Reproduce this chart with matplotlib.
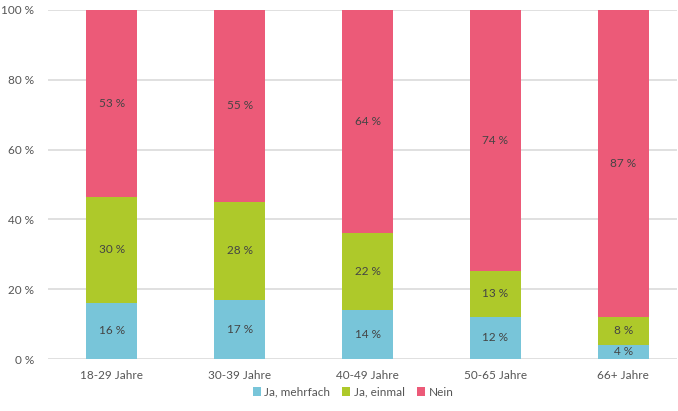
import matplotlib

matplotlib.use("Agg")
import matplotlib.pyplot as plt
import numpy as np
from matplotlib.patches import Patch

plt.rcParams["font.family"] = ["Lato", "DejaVu Sans"]

AGE_GROUPS = ["18-29 Jahre", "30-39 Jahre", "40-49 Jahre", "50-65 Jahre", "66+ Jahre"]
SERIES_NAMES = ["Ja, mehrfach", "Ja, einmal", "Nein"]
JA_MEHRFACH = [16, 17, 14, 12, 4]
JA_EINMAL = [30, 28, 22, 13, 8]
NEIN = [53, 55, 64, 74, 87]
Y_TICKS = [0, 20, 40, 60, 80, 100]

COLORS = ["#78C5D9", "#AEC92A", "#EC5A78"]
TEXT_COLOR = "#555555"
LABEL_COLOR = "#444444"
GRID_COLOR = "#DADADA"


def main() -> None:
    values = np.array([JA_MEHRFACH, JA_EINMAL, NEIN], dtype=float)
    # stacked to 100 %: each column is scaled by its own total
    shares = values / values.sum(axis=0) * 100

    fig = plt.figure(figsize=(6.78, 4.11), dpi=100)
    ax = fig.add_axes([48 / 678, 52 / 411, 629 / 678, 349 / 411])

    x = np.arange(len(AGE_GROUPS))
    bottom = np.zeros(len(AGE_GROUPS))
    for name, color, share, raw in zip(SERIES_NAMES, COLORS, shares, values):
        ax.bar(x, share, width=0.4, bottom=bottom, color=color, label=name, zorder=3)
        for xi, b, h, v in zip(x, bottom, share, raw):
            ax.text(
                xi,
                b + h / 2,
                f"{int(v)} %",
                ha="center",
                va="center",
                fontsize=8.5,
                color=LABEL_COLOR,
                zorder=4,
            )
        bottom += share

    ax.set_xlim(-0.5, 4.42)
    ax.set_ylim(0, 100)
    ax.set_yticks(Y_TICKS)
    ax.set_yticklabels([f"{t} %" for t in Y_TICKS])
    ax.set_xticks(x)
    ax.set_xticklabels(AGE_GROUPS)
    ax.tick_params(axis="both", length=0, labelsize=8.5, labelcolor=TEXT_COLOR)
    ax.tick_params(axis="y", pad=10)
    ax.tick_params(axis="x", pad=8)
    ax.grid(axis="y", color=GRID_COLOR, linewidth=1.2, zorder=0)
    for spine in ax.spines.values():
        spine.set_visible(False)

    handles = [Patch(facecolor=c, label=n) for n, c in zip(SERIES_NAMES, COLORS)]
    fig.legend(
        handles=handles,
        loc="center",
        bbox_to_anchor=(353 / 678, 1 - 392 / 411),
        ncol=3,
        frameon=False,
        fontsize=8.5,
        labelcolor=TEXT_COLOR,
        handlelength=0.7,
        handleheight=0.7,
        handletextpad=0.3,
        columnspacing=1.0,
    )

    fig.savefig("out.png", dpi=100)
    plt.close(fig)


if __name__ == "__main__":
    main()
